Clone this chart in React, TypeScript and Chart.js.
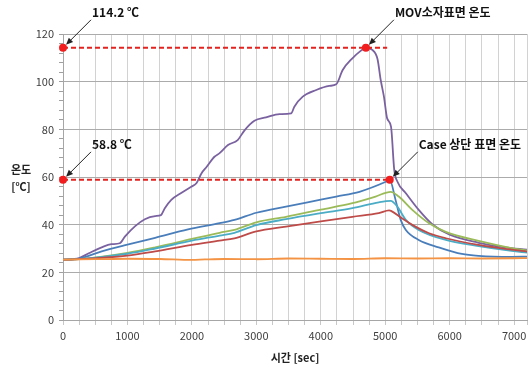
import { useEffect, useRef } from "react";
import { Chart, registerables } from "chart.js";

Chart.register(...registerables);

// ---- data (time in sec, temperature in ℃) ----
const timeMov = [0, 250, 400, 600, 750, 880, 960, 1120, 1270, 1430, 1520, 1580, 1680, 1840, 1990, 2070, 2150, 2230, 2350, 2430, 2560, 2710, 2820, 2970, 3150, 3360, 3540, 3590, 3720, 3930, 4130, 4240, 4340, 4490, 4600, 4700, 4800, 4880, 4930, 4980, 5030, 5090, 5140, 5190, 5320, 5520, 5730, 6000, 6450, 6860, 7200];
const tempMov = [25.3, 26, 28, 30.5, 31.8, 32.2, 35, 39.4, 42.3, 43.6, 44, 46.9, 50.4, 53.4, 55.9, 57.4, 61.6, 64.3, 68.5, 70, 73.4, 75.5, 79.7, 83.6, 85, 86.4, 86.7, 89.5, 93.7, 96.5, 98.2, 98.9, 104.9, 109.8, 112.5, 114.2, 113.3, 109.5, 100.7, 93.7, 84.6, 81.1, 63, 58, 53.2, 46.2, 40.2, 35.8, 32.4, 30.5, 29.5];

const timeBlue = [0, 250, 600, 950, 1430, 1940, 2430, 2660, 3000, 3460, 4000, 4240, 4600, 5010, 5070, 5160, 5240, 5320, 5520, 5830, 6190, 6450, 6960, 7200];
const tempBlue = [25.3, 25.8, 28.8, 31.3, 34.5, 38, 40.6, 42, 45, 47.6, 50.5, 51.8, 53.8, 58, 58.8, 50.4, 42, 37.8, 33.6, 30.5, 27.7, 26.9, 26.5, 26.6];

const timeGreen = [0, 250, 1000, 1430, 2000, 2430, 2660, 3000, 3460, 4000, 4490, 4850, 5085, 5210, 5420, 5680, 5940, 6450, 6960, 7200];
const tempGreen = [25.3, 25.5, 28.2, 30.5, 34, 36.6, 37.8, 41, 43.3, 46.3, 49, 51.8, 53.8, 51.8, 46.2, 40.6, 37, 33.2, 30.2, 29.2];

const timeCyan = [0, 250, 1000, 1430, 2000, 2430, 2660, 3000, 3460, 4000, 4490, 4900, 5085, 5190, 5320, 5520, 5940, 6450, 6960, 7200];
const tempCyan = [25.3, 25.5, 27.8, 30, 33.3, 35.4, 36.6, 39.8, 42.3, 44.8, 46.9, 49.4, 50, 47.5, 42, 37.8, 33.6, 31, 29, 28.3];

const timeRed = [0, 250, 1000, 1430, 2000, 2430, 2660, 3000, 3460, 4000, 4490, 4900, 5060, 5090, 5260, 5420, 5680, 5940, 6450, 6960, 7200];
const tempRed = [25.3, 25.5, 27, 28.8, 31.5, 33.3, 34.3, 37.2, 39.2, 41.4, 43.3, 44.8, 46, 45.8, 42.7, 39.9, 36.4, 34.3, 31.5, 29.5, 28.7];

const timeAmb = [0, 500, 1000, 1500, 2000, 2200, 2500, 3000, 3500, 4000, 4500, 5000, 5500, 6000, 6500, 7000, 7200];
const tempAmb = [25.3, 25.5, 25.7, 25.6, 25.2, 25.4, 25.6, 25.5, 25.8, 25.7, 25.6, 25.9, 25.8, 25.9, 25.8, 25.9, 26.0];

// ---- annotations ----
const peakTemps = [114.2, 58.8];
const peakTimes = [4700, 5070];
const guideEnds = [5030, 5070];
const valueLabels = ["114.2 ℃", "58.8 ℃"];
const seriesLabels = ["MOV소자표면 온도", "Case 상단 표면 온도"];

// ---- axes ----
const xMax = 7200;
const yMax = 120;
const xTickStep = 250;
const xLabelStep = 1000;
const yTickStep = 4;
const yLabelStep = 20;

const FONT = "'Noto Sans CJK KR', 'Noto Sans', sans-serif";

const toPoints = (t: number[], v: number[]) => t.map((x, i) => ({ x, y: v[i] }));
const stepValues = (max: number, step: number) => {
  const out: number[] = [];
  for (let v = 0; v <= max + 1e-9; v += step) out.push(v);
  if (out[out.length - 1] < max) out.push(max);
  return out;
};
const isMult = (v: number, step: number) => Math.abs(v / step - Math.round(v / step)) < 1e-6;

const annotatePlugin = {
  id: "annotate",
  afterDatasetsDraw(chart: any) {
    const { ctx, scales } = chart;
    const xs = scales.x;
    const ys = scales.y;
    ctx.save();
    ctx.strokeStyle = "#E3231E";
    ctx.lineWidth = 2;
    ctx.setLineDash([5, 3]);
    peakTemps.forEach((v, i) => {
      const py = ys.getPixelForValue(v);
      ctx.beginPath();
      ctx.moveTo(xs.getPixelForValue(0), py);
      ctx.lineTo(xs.getPixelForValue(guideEnds[i]), py);
      ctx.stroke();
    });
    ctx.setLineDash([]);

    const marks: { px: number; py: number; label: string }[] = [];
    peakTemps.forEach((v, i) => {
      const py = ys.getPixelForValue(v);
      marks.push({ px: xs.getPixelForValue(0), py, label: valueLabels[i] });
      marks.push({ px: xs.getPixelForValue(peakTimes[i]), py, label: seriesLabels[i] });
    });

    for (const m of marks) {
      ctx.fillStyle = "#F01E1E";
      ctx.beginPath();
      ctx.arc(m.px, m.py, 4, 0, Math.PI * 2);
      ctx.fill();
      const sx = m.px + 28, sy = m.py - 28;
      const ex = m.px + 3, ey = m.py - 3;
      ctx.strokeStyle = "#222";
      ctx.lineWidth = 1;
      ctx.beginPath();
      ctx.moveTo(sx, sy);
      ctx.lineTo(ex + 4, ey - 4);
      ctx.stroke();
      const ang = Math.atan2(ey - sy, ex - sx);
      const hl = 7, hw = 3;
      ctx.fillStyle = "#222";
      ctx.beginPath();
      ctx.moveTo(ex, ey);
      ctx.lineTo(ex - hl * Math.cos(ang) + hw * Math.sin(ang), ey - hl * Math.sin(ang) - hw * Math.cos(ang));
      ctx.lineTo(ex - hl * Math.cos(ang) - hw * Math.sin(ang), ey - hl * Math.sin(ang) + hw * Math.cos(ang));
      ctx.closePath();
      ctx.fill();
      ctx.fillStyle = "#111";
      ctx.font = `bold 12px ${FONT}`;
      ctx.textAlign = "left";
      ctx.textBaseline = "middle";
      ctx.fillText(m.label, m.px + 29, m.py - 35);
    }

    const ca = chart.chartArea;
    ctx.fillStyle = "#222";
    ctx.font = `bold 11px ${FONT}`;
    ctx.textAlign = "center";
    ctx.textBaseline = "middle";
    ctx.fillText("온도", 21, 170);
    ctx.fillText("[℃]", 21, 187);
    ctx.fillText("시간 [sec]", (ca.left + ca.right) / 2, 358);
    ctx.restore();
  },
};

export default function App() {
  const ref = useRef<HTMLCanvasElement>(null);
  useEffect(() => {
    const mk = (t: number[], v: number[], color: string) => ({
      data: toPoints(t, v),
      borderColor: color,
      backgroundColor: color,
      borderWidth: 1.8,
      pointRadius: 0,
      cubicInterpolationMode: "monotone",
      fill: false,
    });
    const chart = new Chart(ref.current as HTMLCanvasElement, {
      type: "line",
      data: {
        datasets: [
          mk(timeAmb, tempAmb, "#F39343"),
          mk(timeRed, tempRed, "#BE4B48"),
          mk(timeCyan, tempCyan, "#4BACC6"),
          mk(timeGreen, tempGreen, "#9BBB59"),
          mk(timeBlue, tempBlue, "#4A7EBB"),
          mk(timeMov, tempMov, "#7A62A0"),
        ],
      },
      options: {
        animation: false,
        responsive: true,
        maintainAspectRatio: false,
        layout: { padding: { top: 34, right: 3, left: 0, bottom: 0 } },
        plugins: { legend: { display: false }, tooltip: { enabled: false } },
        scales: {
          x: {
            type: "linear",
            min: 0,
            max: xMax,
            afterBuildTicks: (s: any) => {
              s.ticks = stepValues(xMax, xTickStep).map((value) => ({ value }));
            },
            afterFit: (s: any) => {
              s.height = 46;
            },
            border: { color: "#A6A6A6", width: 1 },
            grid: { color: "#D2D2D2", tickColor: "#C8C8C8", tickLength: 5, lineWidth: 1 },
            ticks: {
              autoSkip: false,
              maxRotation: 0,
              minRotation: 0,
              padding: 4,
              color: "#404040",
              font: { size: 11, family: FONT },
              callback: (v: any) => (isMult(Number(v), xLabelStep) ? String(v) : ""),
            },
          },
          y: {
            min: 0,
            max: yMax,
            afterBuildTicks: (s: any) => {
              s.ticks = stepValues(yMax, yTickStep).map((value) => ({ value }));
            },
            afterFit: (s: any) => {
              s.width = 63;
            },
            border: { color: "#A6A6A6", width: 1 },
            grid: {
              color: (c: any) => (c.tick && isMult(c.tick.value, yLabelStep) ? "#ABABAB" : "rgba(0,0,0,0)"),
              tickColor: "#A0A0A0",
              tickLength: 4,
              lineWidth: 1,
            },
            ticks: {
              autoSkip: false,
              padding: 5,
              color: "#404040",
              font: { size: 11, family: FONT },
              callback: (v: any) => (isMult(Number(v), yLabelStep) ? String(v) : ""),
            },
          },
        },
      },
      plugins: [annotatePlugin],
    } as any);
    return () => chart.destroy();
  }, []);
  return (
    <div style={{ position: "fixed", left: 0, top: 0, width: 531, height: 366, background: "#fff" }}>
      <canvas ref={ref} />
    </div>
  );
}
